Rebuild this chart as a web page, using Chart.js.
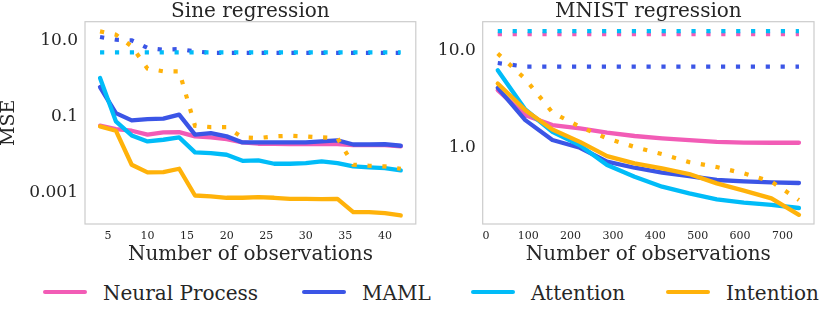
<!DOCTYPE html>
<html>
<head>
<meta charset="utf-8">
<script src="https://cdn.jsdelivr.net/npm/chart.js@4.4.0/dist/chart.umd.min.js"></script>
<style>
  body { margin: 0; width: 830px; height: 313px; background: #fff; position: relative; overflow: hidden;
         font-family: "DejaVu Serif", serif; color: #262626; }
  .box { position: absolute; top: 0; height: 270px; }
  #leftBox { left: 0; width: 430px; }
  #rightBox { left: 415px; width: 415px; }
  .swatch { position: absolute; top: 290.2px; width: 44px; height: 4.3px; border-radius: 2px; }
  .lbl { position: absolute; top: 281px; font-size: 20px; line-height: 24px; white-space: nowrap; }
</style>
</head>
<body>
<div class="box" id="leftBox"><canvas id="sineChart"></canvas></div>
<div class="box" id="rightBox"><canvas id="mnistChart"></canvas></div>
<div id="legend"></div>

<script>
// ---- data ----
const seriesNames = ['Neural Process', 'MAML', 'Attention', 'Intention'];
const seriesColors = ['#f25cb6', '#3b55e6', '#00bcf8', '#ffb20a'];

// Sine regression
const sineX = [4, 6, 8, 10, 12, 14, 16, 18, 20, 22, 24, 26, 28, 30, 32, 34, 36, 38, 40, 42];
const sineNP = [0.0568, 0.0464, 0.042, 0.033, 0.0379, 0.0387, 0.0298, 0.028, 0.0253, 0.0207, 0.0191, 0.0191, 0.0187, 0.0187, 0.0187, 0.0187, 0.0176, 0.0176, 0.0176, 0.0164];
const sineMAML = [0.59, 0.122, 0.0785, 0.085, 0.0869, 0.111, 0.033, 0.0364, 0.0298, 0.0207, 0.0207, 0.0207, 0.0207, 0.0207, 0.022, 0.0233, 0.0182, 0.0182, 0.0185, 0.0169];
const sineAttn = [1.02, 0.074, 0.0316, 0.022, 0.0243, 0.028, 0.0113, 0.0108, 0.0098, 0.0068, 0.00695, 0.00568, 0.00568, 0.0059, 0.00655, 0.0059, 0.00483, 0.00455, 0.00437, 0.00379];
const sineInt = [0.0546, 0.042, 0.00535, 0.00336, 0.00343, 0.0042, 0.00083, 0.000785, 0.000724, 0.000724, 0.000754, 0.000724, 0.00068, 0.00068, 0.000668, 0.00068, 0.000303, 0.000303, 0.000286, 0.000248];
const sineMAMLdot = [12.2, 10.4, 10.0, 6.3, 5.68, 5.9, 5.13, 4.7, 4.7, 4.7, 4.7, 4.7, 4.7, 4.7, 4.7, 4.7, 4.7, 4.7, 4.7, 4.7];
const sineAttnDot = [4.8, 4.8, 4.8, 4.8, 4.8, 4.8, 4.8, 4.8, 4.8, 4.8, 4.8, 4.8, 4.8, 4.8, 4.8, 4.8, 4.8, 4.8, 4.8, 4.8];
const sineIntDot = [17.2, 14.1, 6.95, 1.8, 1.53, 1.53, 0.0568, 0.0524, 0.0524, 0.028, 0.0269, 0.0298, 0.031, 0.0298, 0.028, 0.0269, 0.00535, 0.00504, 0.00483, 0.0042];
const sineXTicks = [5, 10, 15, 20, 25, 30, 35, 40];
const sineYTicks = [0.001, 0.1, 10];
const sineYLabels = ['0.001', '0.1', '10.0'];

// MNIST regression
const mnistX = [28, 93, 157, 222, 286, 351, 416, 480, 545, 609, 674, 739];
const mnistNP = [3.89, 2.16, 1.71, 1.58, 1.43, 1.32, 1.25, 1.2, 1.15, 1.13, 1.125, 1.125];
const mnistMAML = [4.11, 1.92, 1.2, 1.0, 0.72, 0.624, 0.555, 0.513, 0.467, 0.452, 0.441, 0.435];
const mnistAttn = [6.24, 2.47, 1.46, 1.06, 0.665, 0.505, 0.399, 0.341, 0.296, 0.273, 0.259, 0.241];
const mnistInt = [4.56, 2.43, 1.54, 1.15, 0.822, 0.692, 0.614, 0.537, 0.431, 0.363, 0.303, 0.205];
const mnistNPdot = [14.6, 14.6, 14.6, 14.6, 14.6, 14.6, 14.6, 14.6, 14.6, 14.6, 14.6, 14.6];
const mnistMAMLdot = [7.4, 6.8, 6.8, 6.8, 6.8, 6.8, 6.8, 6.8, 6.8, 6.8, 6.8, 6.8];
const mnistAttnDot = [15.7, 15.7, 15.7, 15.7, 15.7, 15.7, 15.7, 15.7, 15.7, 15.7, 15.7, 15.7];
const mnistIntDot = [9.25, 5.08, 2.3, 1.64, 1.25, 1.02, 0.861, 0.713, 0.634, 0.546, 0.449, 0.291];
const mnistXTicks = [0, 100, 200, 300, 400, 500, 600, 700];
const mnistYTicks = [1, 10];
const mnistYLabels = ['1.0', '10.0'];

const FONT = '"DejaVu Serif", serif';
const INK = '#262626';

function lineSet(label, xs, ys, color, dotted) {
    return {
        label: label,
        data: xs.map((x, i) => ({ x: x, y: ys[i] })),
        borderColor: color,
        backgroundColor: color,
        borderWidth: dotted ? 4.2 : 4.3,
        borderDash: dotted ? [4.2, 10.7] : [],
        borderCapStyle: dotted ? 'butt' : 'round',
        borderJoinStyle: dotted ? 'miter' : 'round',
        pointRadius: 0,
        tension: 0,
        fill: false
    };
}

// grey frame round the plot area
const frame = {
    id: 'frame',
    beforeDatasetsDraw(chart) {
        const { ctx, chartArea: a } = chart;
        ctx.save();
        ctx.strokeStyle = '#cccccc';
        ctx.lineWidth = 1.2;
        ctx.strokeRect(a.left, a.top, a.right - a.left, a.bottom - a.top);
        ctx.restore();
    }
};

function makeChart(id, cfg) {
    const yScale = {
        type: 'logarithmic',
        min: cfg.yMin, max: cfg.yMax,
        afterBuildTicks: s => { s.ticks = cfg.yTicks.map(v => ({ value: v })); },
        afterFit: s => { s.width = cfg.yWidth; },
        grid: { display: false, drawTicks: false },
        border: { display: false },
        ticks: {
            callback: (v, i) => cfg.yLabels[i],
            padding: 7, color: INK, font: { family: FONT, size: 17 }
        },
        title: { display: !!cfg.yTitle, text: cfg.yTitle || '', color: INK, padding: 0,
                 font: { family: FONT, size: 19, lineHeight: 1 } }
    };
    return new Chart(document.getElementById(id), {
        type: 'line',
        data: { datasets: cfg.datasets },
        options: {
            responsive: true,
            maintainAspectRatio: false,
            animation: false,
            devicePixelRatio: 1,
            layout: { padding: { left: 0, right: cfg.padRight, top: 0, bottom: 3.5 } },
            plugins: { legend: { display: false }, tooltip: { enabled: false } },
            scales: {
                x: {
                    type: 'linear', min: cfg.xMin, max: cfg.xMax,
                    afterBuildTicks: s => { s.ticks = cfg.xTicks.map(v => ({ value: v })); },
                    afterFit: s => { s.height = 42.5; },
                    grid: { display: false, drawTicks: false },
                    border: { display: false },
                    ticks: { padding: 6, color: INK, maxRotation: 0, autoSkip: false,
                             font: { family: FONT, size: 11 } },
                    title: { display: true, text: 'Number of observations', color: INK, padding: 0,
                             font: { family: FONT, size: 20 } }
                },
                xTop: {
                    type: 'linear', position: 'top', min: cfg.xMin, max: cfg.xMax,
                    afterFit: s => { s.height = 21.7; },
                    grid: { display: false, drawTicks: false },
                    border: { display: false },
                    ticks: { display: false },
                    title: { display: true, text: cfg.title, color: INK, padding: 0,
                             font: { family: FONT, size: 20 } }
                },
                y: yScale
            }
        },
        plugins: [frame]
    });
}

const [cNP, cMAML, cAttn, cInt] = seriesColors;

makeChart('sineChart', {
    title: 'Sine regression', yTitle: 'MSE',
    xMin: 2.1, xMax: 43.9, xTicks: sineXTicks,
    yMin: Math.pow(10, -3.83), yMax: Math.pow(10, 1.49), yTicks: sineYTicks, yLabels: sineYLabels,
    yWidth: 85, padRight: 14.2,
    datasets: [
        lineSet('Intention (dotted)', sineX, sineIntDot, cInt, true),
        lineSet('Attention (dotted)', sineX, sineAttnDot, cAttn, true),
        lineSet('MAML (dotted)', sineX, sineMAMLdot, cMAML, true),
        lineSet('Intention', sineX, sineInt, cInt, false),
        lineSet('Attention', sineX, sineAttn, cAttn, false),
        lineSet('MAML', sineX, sineMAML, cMAML, false),
        lineSet('Neural Process', sineX, sineNP, cNP, false)
    ]
});

makeChart('mnistChart', {
    title: 'MNIST regression',
    xMin: -7.5, xMax: 774.5, xTicks: mnistXTicks,
    yMin: Math.pow(10, -0.782), yMax: Math.pow(10, 1.293), yTicks: mnistYTicks, yLabels: mnistYLabels,
    yWidth: 67.7, padRight: 16,
    datasets: [
        lineSet('Intention (dotted)', mnistX, mnistIntDot, cInt, true),
        lineSet('Attention (dotted)', mnistX, mnistAttnDot, cAttn, true),
        lineSet('Neural Process (dotted)', mnistX, mnistNPdot, cNP, true),
        lineSet('MAML (dotted)', mnistX, mnistMAMLdot, cMAML, true),
        lineSet('Intention', mnistX, mnistInt, cInt, false),
        lineSet('Attention', mnistX, mnistAttn, cAttn, false),
        lineSet('MAML', mnistX, mnistMAML, cMAML, false),
        lineSet('Neural Process', mnistX, mnistNP, cNP, false)
    ]
});

// shared legend under both panels
const legendX = [43, 302, 471, 666];
const legend = document.getElementById('legend');
seriesNames.forEach((name, i) => {
    const sw = document.createElement('div');
    sw.className = 'swatch';
    sw.style.left = legendX[i] + 'px';
    sw.style.background = seriesColors[i];
    legend.appendChild(sw);
    const t = document.createElement('div');
    t.className = 'lbl';
    t.style.left = (legendX[i] + 60) + 'px';
    t.textContent = name;
    legend.appendChild(t);
});
</script>
</body>
</html>
